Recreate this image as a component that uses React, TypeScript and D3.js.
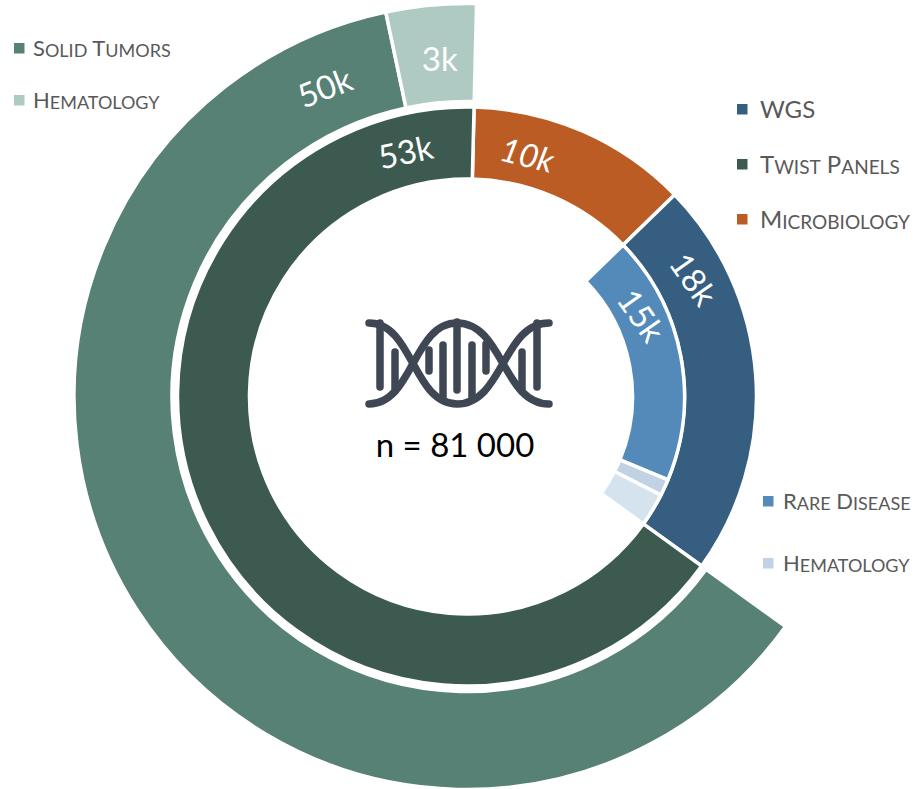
import * as d3 from "d3";

const width = 915;
const height = 789;
const cx = 467;
const cy = 396.5;
const startDeg = 1.4;

// values in thousands, clockwise from the top
const middleNames = ["Microbiology", "WGS", "Twist Panels"];
const middleValues = [10, 18, 53];
const innerNames = ["Rare Disease", "Hematology", "Other"];
const innerValues = [15, 1, 2];
const outerNames = ["Solid Tumors", "Hematology"];
const outerValues = [50, 3];

const middleColors = ["#BA5C24", "#365E80", "#3C5A50"];
const innerColors = ["#548ABA", "#C0D2E4", "#D5E3EE"];
const outerColors = ["#568174", "#AFCAC2"];

const total = d3.sum(middleValues);
const valueToAngle = d3.scaleLinear().domain([0, total]).range([0, 2 * Math.PI]);
const rad = (deg: number) => (deg * Math.PI) / 180;

function slices(values: number[], startValue: number) {
  const start = rad(startDeg) + valueToAngle(startValue);
  const pie = d3
    .pie<number>()
    .sort(null)
    .startAngle(start)
    .endAngle(start + valueToAngle(d3.sum(values)));
  return pie(values);
}

const rings = [
  { values: outerValues, colors: outerColors, start: middleValues[0] + middleValues[1], r0: 295, r1: 393 },
  { values: middleValues, colors: middleColors, start: 0, r0: 217.5, r1: 289.5 },
  { values: innerValues, colors: innerColors, start: middleValues[0], r0: 165.5, r1: 217.5 },
];

// slice labels: polar position and tilt
const sliceLabels = [
  { text: "50k", deg: -24.7, r: 341, tilt: -21, italic: false },
  { text: "3k", deg: -4.6, r: 340, tilt: 0, italic: false },
  { text: "53k", deg: -14.1, r: 253, tilt: -12, italic: false },
  { text: "10k", deg: 14, r: 250, tilt: 14, italic: true },
  { text: "18k", deg: 62.6, r: 256, tilt: 55, italic: false },
  { text: "15k", deg: 65, r: 193, tilt: 55, italic: false },
];

const legendItems = [
  { text: "Solid Tumors", color: outerColors[0], x: 14, y: 47, size: 22, scale: 1.19, gap: 19 },
  { text: "Hematology", color: outerColors[1], x: 14, y: 99, size: 22, scale: 1.19, gap: 19 },
  { text: "WGS", color: middleColors[1], x: 737, y: 108, size: 24, scale: 1.14, gap: 23 },
  { text: "Twist Panels", color: middleColors[2], x: 737, y: 163, size: 24, scale: 1.14, gap: 23 },
  { text: "Microbiology", color: middleColors[0], x: 737, y: 218, size: 24, scale: 1.14, gap: 23 },
  { text: "Rare Disease", color: innerColors[0], x: 763, y: 500, size: 22, scale: 1.18, gap: 20 },
  { text: "Hematology", color: innerColors[1], x: 763, y: 562, size: 22, scale: 1.19, gap: 20 },
];

// DNA icon
const strandA: [number, number][] = [[369, 323], [457, 404], [549, 323]];
const strandB: [number, number][] = [[369, 404], [457, 323], [549, 404]];
const rungs: [number, number, number][] = [
  [380, 323, 387],
  [395, 352, 391],
  [429, 350, 371],
  [443, 345, 400],
  [457, 322, 390],
  [472, 345, 400],
  [486, 344, 371],
  [522, 352, 391],
  [537, 323, 387],
];
const strandLine = d3.line().curve(d3.curveBumpX);

// capitals stay at full size, the lowercase runs get the small caps
function smallCapsRuns(text: string) {
  return text.match(/[A-Z ]+|[a-z]+/g) ?? [];
}

export default function App() {
  return (
    <svg
      width={width}
      height={height}
      style={{ position: "absolute", left: 0, top: 0, fontFamily: "Lato, sans-serif" }}
    >
      <g transform={`translate(${cx},${cy})`}>
        {rings.map((ring, i) => {
          const arc = d3.arc<d3.PieArcDatum<number>>().innerRadius(ring.r0).outerRadius(ring.r1);
          return (
            <g key={i}>
              {slices(ring.values, ring.start).map((d, j) => (
                <path key={j} d={arc(d) ?? ""} fill={ring.colors[j]} stroke="#fff" strokeWidth={3.5} />
              ))}
            </g>
          );
        })}
        {sliceLabels.map((l) => {
          const x = l.r * Math.sin(rad(l.deg));
          const y = -l.r * Math.cos(rad(l.deg));
          return (
            <text
              key={l.text}
              transform={`translate(${x},${y}) rotate(${l.tilt})`}
              textAnchor="middle"
              dominantBaseline="central"
              fill="#fff"
              fontSize={33}
              fontStyle={l.italic ? "italic" : "normal"}
            >
              {l.text}
            </text>
          );
        })}
      </g>

      <g fill="none" stroke="#3F4754" strokeWidth={7.5} strokeLinecap="round">
        <path d={strandLine(strandA) ?? ""} />
        <path d={strandLine(strandB) ?? ""} />
        {rungs.map(([x, y1, y2], i) => (
          <line key={i} x1={x} x2={x} y1={y1} y2={y2} />
        ))}
      </g>
      <text x={455} y={444} textAnchor="middle" dominantBaseline="central" fontSize={33} fill="#000">
        n = 81 000
      </text>

      {legendItems.map((l) => (
        <g key={l.text + l.y}>
          <rect x={l.x} y={l.y - 4} width={10.5} height={10.5} fill={l.color} />
          <text
            x={l.x + l.gap}
            y={l.y}
            dominantBaseline="central"
            fontSize={l.size}
            fill="#595959"
            style={{ fontVariant: "small-caps" }}
          >
            {smallCapsRuns(l.text).map((run, i) => (
              <tspan key={i} fontSize={/[a-z]/.test(run) ? l.size * l.scale : l.size}>
                {run}
              </tspan>
            ))}
          </text>
        </g>
      ))}
    </svg>
  );
}
